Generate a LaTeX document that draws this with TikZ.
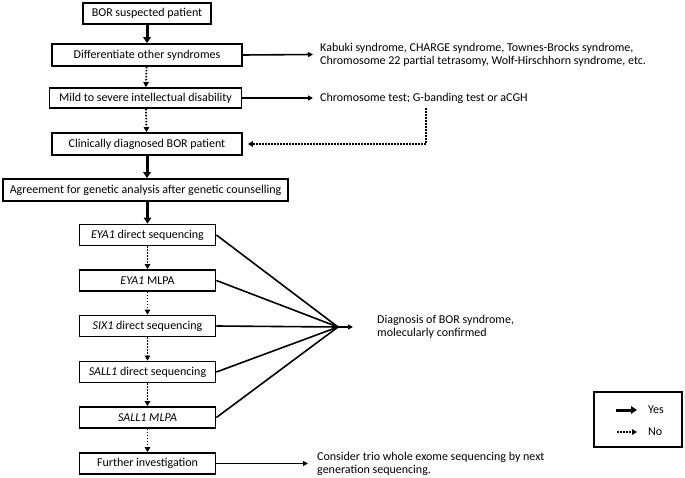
\documentclass[tikz,border=0pt]{standalone}
\usepackage{fontspec}
\setmainfont{Carlito}
\usetikzlibrary{arrows.meta}
\begin{document}
\begin{tikzpicture}[x=1pt,y=-1pt,
  font=\fontsize{12}{13}\selectfont,
  box/.style={draw,line width=1.8pt,minimum height=21pt,inner sep=0pt,align=center},
  txt/.style={inner sep=0pt,align=left,anchor=west},
  yesarr/.style={line width=3pt,-{Triangle[length=6pt,width=7.5pt]}},
  noarr/.style={line width=1.8pt,dash pattern=on 1.5pt off 1.5pt,-{Triangle[length=5pt,width=5.5pt]}},
  thin/.style={line width=1.6pt,-{Triangle[length=5pt,width=5pt]}},
  conv/.style={line width=1.6pt}]
\useasboundingbox (0,0) rectangle (685,478);
\node[box,minimum width=128pt] (b1) at (147,13.5) {BOR suspected patient};
\node[box,minimum width=190pt,minimum height=22pt] (b2) at (147,55) {Differentiate other syndromes};
\node[box,minimum width=192pt,minimum height=20pt] (b3) at (145.5,98) {Mild to severe intellectual disability};
\node[box,minimum width=190pt,minimum height=22pt] (b4) at (147,144) {Clinically diagnosed BOR patient};
\node[box,minimum width=285pt,minimum height=22pt] (b5) at (145.5,190) {Agreement for genetic analysis after genetic counselling};
\node[box,minimum width=136pt] (b6) at (147.5,235) {\textit{EYA1} direct sequencing};
\node[box,minimum width=136pt] (b7) at (147.5,280.5) {\textit{EYA1} MLPA};
\node[box,minimum width=136pt] (b8) at (147.5,326) {\textit{SIX1} direct sequencing};
\node[box,minimum width=136pt] (b9) at (147.5,372) {\textit{SALL1} direct sequencing};
\node[box,minimum width=136pt] (b10) at (147.5,417.5) {\textit{SALL1 MLPA}};
\node[box,minimum width=136pt] (b11) at (147.5,463.5) {Further investigation};

\node[txt] (kab) at (320,54.5) {Kabuki syndrome, CHARGE syndrome, Townes-Brocks syndrome,\\Chromosome 22 partial tetrasomy, Wolf-Hirschhorn syndrome, etc.};
\node[txt,inner ysep=5pt] (chr) at (320,98) {Chromosome test; G-banding test or aCGH};
\node[txt] (diag) at (377,327) {Diagnosis of BOR syndrome,\\molecularly confirmed};
\node[txt] (cons) at (317,463.5) {Consider trio whole exome sequencing by next\\generation sequencing.};

\draw[yesarr] (b1) -- (b2);
\draw[noarr] (b2) -- (b3);
\draw[noarr] (b3) -- (b4);
\draw[yesarr] (b4.south) -- (b4.south |- b5.north);
\draw[yesarr] (b5.south -| b6) -- (b6);
\draw[noarr] (b6) -- (b7);
\draw[noarr] (b7) -- (b8);
\draw[noarr] (b8) -- (b9);
\draw[noarr] (b9) -- (b10);
\draw[noarr] (b10) -- (b11);

\draw[thin] (b2.east) -- ([xshift=-7pt]kab.west);
\draw[thin] (b3.east) -- ([xshift=-7pt]chr.west);
\draw[thin] (b11.east) -- ([xshift=-9pt]b11.east -| cons.west);
\coordinate (c1) at (426,143);
\draw[noarr] (chr.south -| c1) |- ([xshift=5pt]b4.east);

\coordinate (m) at (338,327);
\draw[conv] (b6.east) -- (m);
\draw[conv] (b7.east) -- (m);
\draw[conv] (b8.east) -- (m);
\draw[conv] (b9.east) -- (m);
\draw[conv] (b10.east) -- (m);
\draw[thin] (m) -- ([xshift=-24pt]diag.west);

\node[draw,line width=1.5pt,minimum width=88pt,minimum height=55pt] (leg) at (638,419.5) {};
\coordinate (ly1) at (616,410);
\coordinate (ly2) at (637,410);
\coordinate (ln1) at (617,432);
\coordinate (ln2) at (637,432);
\draw[yesarr] (ly1) -- (ly2);
\draw[noarr] (ln1) -- (ln2);
\node[txt] (yes) at (648,410) {Yes};
\node[txt] (no) at (648,432) {No};
\end{tikzpicture}
\end{document}
